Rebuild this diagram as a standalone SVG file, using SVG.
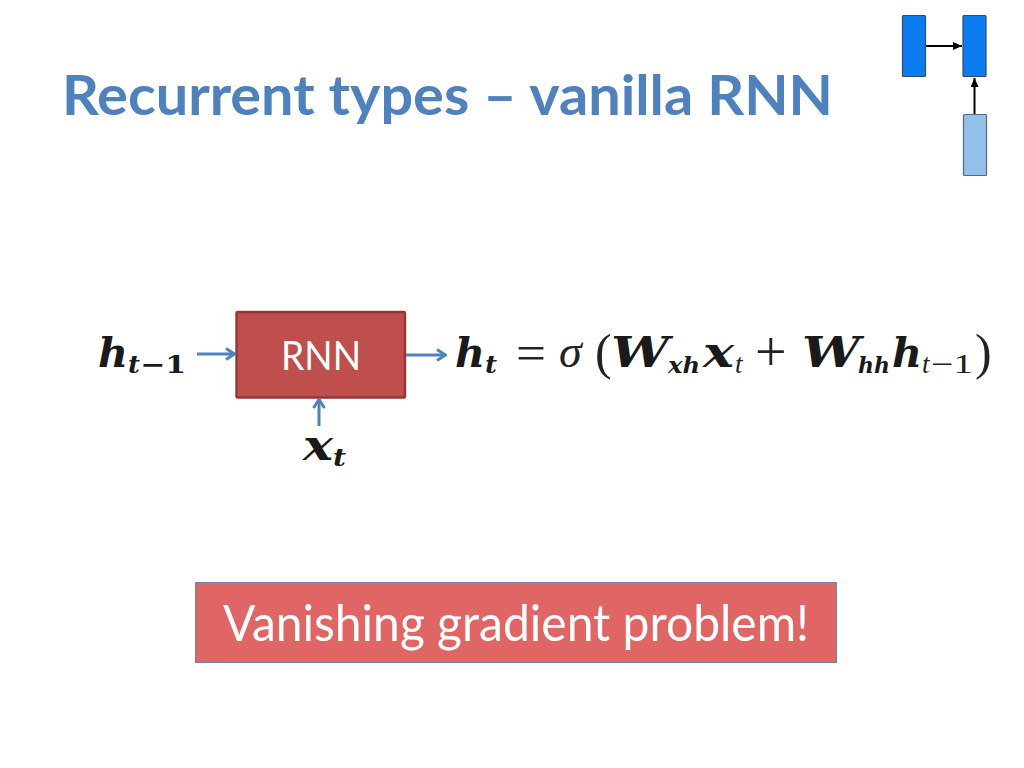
<svg xmlns="http://www.w3.org/2000/svg" width="1024" height="768" viewBox="0 0 1024 768">
<defs>
<marker id="blue" viewBox="0 0 12 14" refX="11" refY="7" markerWidth="12" markerHeight="14" markerUnits="userSpaceOnUse" orient="auto"><path d="M2 1.500L10.500 7L2 12.500" fill="none" stroke="#4f81bd" stroke-width="3"/></marker>
<marker id="blk" viewBox="0 0 9 8" refX="9" refY="4" markerWidth="9" markerHeight="8" markerUnits="userSpaceOnUse" orient="auto"><path d="M0 0L9 4L0 8Z" fill="#000"/></marker>
</defs>
<style>
.t{font-family:"Lato","Open Sans",sans-serif}
.m{font-family:"DejaVu Serif","Liberation Serif",serif;fill:#1a1a1a}
.r{font-family:"Liberation Serif","DejaVu Serif",serif;fill:#222}
.bi{font-weight:bold;font-style:italic}
.i{font-style:italic}
.c{stroke:#4f81bd;stroke-width:3;fill:none;marker-end:url(#blue)}
.k{stroke:#000;stroke-width:2;fill:none;marker-end:url(#blk)}
</style>
<rect width="1024" height="768" fill="#fff"/>
<text id="title" class="t" x="62" y="115" font-size="55" font-weight="bold" fill="#4f81bd" textLength="771" lengthAdjust="spacingAndGlyphs">Recurrent types – vanilla RNN</text>
<g id="node-a"><rect x="902.500" y="15.500" width="23" height="61" rx="1" fill="#0a7cf0" stroke="#2f4a68" stroke-width="1.200"/></g>
<g id="node-b"><rect x="963" y="15.500" width="23" height="61" rx="1" fill="#0a7cf0" stroke="#2f4a68" stroke-width="1.200"/></g>
<g id="node-c"><rect x="963.500" y="114.500" width="23" height="61" rx="1" fill="#94c0ea" stroke="#4f6a85" stroke-width="1.200"/></g>
<g id="node-rnn"><rect x="236.500" y="312" width="168.500" height="85.500" rx="1" fill="#bf4f4c" stroke="#943634" stroke-width="2.400"/><text class="t" x="321" y="370" font-size="41" fill="#fff" text-anchor="middle" textLength="80" lengthAdjust="spacingAndGlyphs">RNN</text></g>
<g id="connectors">
<path class="k" d="M926 46H962"/>
<path class="k" d="M974.500 114V78"/>
<path class="c" d="M197 354H235"/>
<path class="c" d="M406 355H446"/>
<path class="c" d="M319 426V399"/>
</g>
<g id="math">
<text class="m bi" x="98" y="367" font-size="41" textLength="30" lengthAdjust="spacingAndGlyphs">h</text>
<text class="m bi" x="128" y="373" font-size="24" textLength="12" lengthAdjust="spacingAndGlyphs">t</text>
<text class="m" x="140" y="373" font-size="24" font-weight="bold" textLength="46" lengthAdjust="spacingAndGlyphs">−1</text>
<text class="m bi" x="303" y="460" font-size="42" textLength="30" lengthAdjust="spacingAndGlyphs">x</text>
<text class="m bi" x="333" y="466" font-size="24" textLength="13" lengthAdjust="spacingAndGlyphs">t</text>
<text class="m bi" x="455" y="367" font-size="41" textLength="30" lengthAdjust="spacingAndGlyphs">h</text>
<text class="m bi" x="485" y="373" font-size="24" textLength="12" lengthAdjust="spacingAndGlyphs">t</text>
<text class="r" x="516" y="370" font-size="50" textLength="30" lengthAdjust="spacingAndGlyphs">=</text>
<text class="r i" x="559" y="367" font-size="46">σ</text>
<text class="r" x="595" y="369" font-size="50">(</text>
<text class="m bi" x="611" y="367" font-size="42" textLength="58" lengthAdjust="spacingAndGlyphs">W</text>
<text class="m bi" x="668" y="373" font-size="23" textLength="32" lengthAdjust="spacingAndGlyphs">xh</text>
<text class="m bi" x="703" y="367" font-size="42" textLength="31" lengthAdjust="spacingAndGlyphs">x</text>
<text class="r i" x="735" y="373" font-size="27">t</text>
<text class="r" x="755" y="371" font-size="56" font-weight="normal">+</text>
<text class="m bi" x="802" y="367" font-size="42" textLength="58" lengthAdjust="spacingAndGlyphs">W</text>
<text class="m bi" x="858" y="373" font-size="23" textLength="32" lengthAdjust="spacingAndGlyphs">hh</text>
<text class="m bi" x="892" y="367" font-size="41" textLength="30" lengthAdjust="spacingAndGlyphs">h</text>
<text class="r i" x="922" y="373" font-size="27">t</text>
<text class="r" x="931" y="373" font-size="27" textLength="42" lengthAdjust="spacingAndGlyphs">−1</text>
<text class="r" x="975" y="369" font-size="50">)</text>
</g>
<g id="banner"><rect x="195.500" y="582.500" width="641" height="80" fill="#e06666" stroke="#6a86ad" stroke-width="1"/><text class="t" x="516" y="641" font-size="50" fill="#fff" text-anchor="middle" textLength="586" lengthAdjust="spacingAndGlyphs">Vanishing gradient problem!</text></g>
</svg>
